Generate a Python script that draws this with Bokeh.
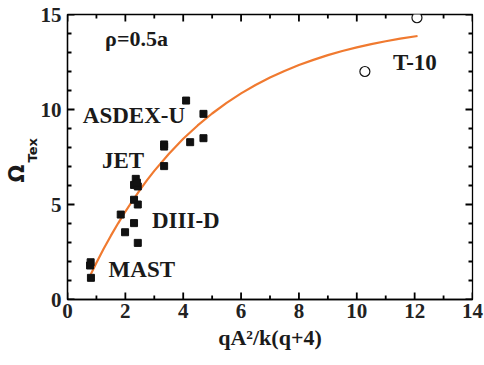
from bokeh.plotting import figure
from bokeh.models import Range1d, SingleIntervalTicker, Label, Title
from bokeh.embed import file_html
from bokeh.resources import INLINE

# Data
tok_x = [0.78, 0.80, 0.81, 1.84, 1.99, 2.30, 2.30, 2.43, 2.43, 2.36, 2.30, 2.43, 2.40,
         3.34, 3.34, 3.34, 4.24, 4.10, 4.70, 4.70]
tok_y = [1.79, 1.96, 1.14, 4.47, 3.54, 4.02, 5.25, 5.00, 2.98, 6.35, 6.03, 5.95, 6.15,
         8.16, 8.05, 7.02, 8.28, 10.47, 9.77, 8.49]
t10_x = [10.28, 12.08]
t10_y = [12.0, 14.83]
fit_x = [0.8, 1.0, 1.25, 1.5, 1.75, 2.0, 2.25, 2.5, 2.75, 3.0, 3.5, 4.0, 4.5, 5.0, 5.5,
         6.0, 6.5, 7.0, 7.5, 8.0, 8.5, 9.0, 9.5, 10.0, 10.5, 11.0, 11.5, 12.1]
fit_y = [1.31, 1.93, 2.67, 3.36, 4.01, 4.63, 5.21, 5.76, 6.28, 6.77, 7.66, 8.46, 9.16, 9.79,
         10.35, 10.85, 11.29, 11.68, 12.03, 12.34, 12.61, 12.86, 13.08, 13.27, 13.44, 13.59,
         13.73, 13.87]
x_major = [0, 2, 4, 6, 8, 10, 12, 14]
x_minor = [1, 3, 5, 7, 9, 11, 13]
y_major = [0, 5, 10, 15]
y_minor = [1, 2, 3, 4, 6, 7, 8, 9, 11, 12, 13, 14]

SERIF = "Liberation Serif"
X0, X1, Y0, Y1 = 0, 14, 0, 15
W, H = 484, 365
BL, BR, BT, BB = 67, 12, 14, 66

p = figure(width=W, height=H, output_backend="svg", toolbar_location=None,
           x_range=Range1d(X0, X1), y_range=Range1d(Y0, Y1),
           min_border_left=BL, min_border_right=BR, min_border_top=BT, min_border_bottom=BB)
p.background_fill_color = "white"
p.border_fill_color = "white"
p.outline_line_color = "black"
p.outline_line_width = 1.3
p.grid.visible = False

for ax in (p.xaxis[0], p.yaxis[0]):
    ax.major_tick_in = 0
    ax.major_tick_out = 0
    ax.minor_tick_in = 0
    ax.minor_tick_out = 0
    ax.axis_line_color = "black"
    ax.axis_line_width = 1.3
    ax.major_label_text_font = SERIF
    ax.major_label_text_font_style = "bold"
    ax.major_label_text_font_size = "21px"
    ax.major_label_text_color = "#222222"

p.xaxis.ticker = SingleIntervalTicker(interval=2, num_minor_ticks=2)
p.yaxis.ticker = SingleIntervalTicker(interval=5, num_minor_ticks=5)
p.xaxis.major_label_standoff = 4
p.yaxis.major_label_standoff = 6
p.xaxis.axis_label = "qA²/k(q+4)"
p.xaxis.axis_label_text_font = SERIF
p.xaxis.axis_label_text_font_style = "bold"
p.xaxis.axis_label_text_font_size = "22px"
p.xaxis.axis_label_text_color = "#1a1a1a"
p.xaxis.axis_label_standoff = 4

# inward ticks on all four sides: thin filled rects centred on the frame edges
# (the half outside the frame is clipped away)
tk = dict(fill_color="black", line_color=None, width_units="screen", height_units="screen")
for ys in (Y0, Y1):
    p.rect(x=x_major, y=[ys] * len(x_major), width=1.8, height=14, **tk)
    p.rect(x=x_minor, y=[ys] * len(x_minor), width=1.8, height=8, **tk)
for xs in (X0, X1):
    p.rect(x=[xs] * len(y_major), y=y_major, width=14, height=1.8, **tk)
    p.rect(x=[xs] * len(y_minor), y=y_minor, width=8, height=1.8, **tk)

p.line(fit_x, fit_y, line_color="#f07a30", line_width=2.2)
p.scatter(tok_x, tok_y, marker="square", size=7, fill_color="#111111", line_color="#111111")
p.scatter(t10_x, t10_y, marker="circle", size=10, fill_color="white", line_color="#111111",
          line_width=1.2)

def lab(x, y, t, size="23px", font=SERIF, style="bold", align="left", baseline="middle"):
    p.add_layout(Label(x=x, y=y, text=t, text_font=font, text_font_style=style,
                       text_font_size=size, text_align=align, text_baseline=baseline,
                       text_color="#1a1a1a"))

lab(1.30, 13.74, "ρ=0.5a", size="22px")
lab(11.25, 12.49, "T-10")
lab(0.53, 9.68, "ASDEX-U")
lab(1.19, 7.32, "JET")
lab(2.92, 4.16, "DIII-D")
lab(1.42, 1.56, "MAST")

# y-axis title: Omega with subscript Tex, as two titles on the left side
t_sub = Title(text="Tex", align="left", text_font="DejaVu Sans", text_font_style="bold",
              text_font_size="13px", text_color="#1a1a1a", standoff=-4, offset=137)
t_om = Title(text="Ω", align="left", text_font="DejaVu Sans", text_font_style="bold",
             text_font_size="21px", text_color="#1a1a1a", standoff=-9, offset=117)
p.add_layout(t_sub, "left")
p.add_layout(t_om, "left")

open("out.html", "w").write(file_html(p, INLINE))
